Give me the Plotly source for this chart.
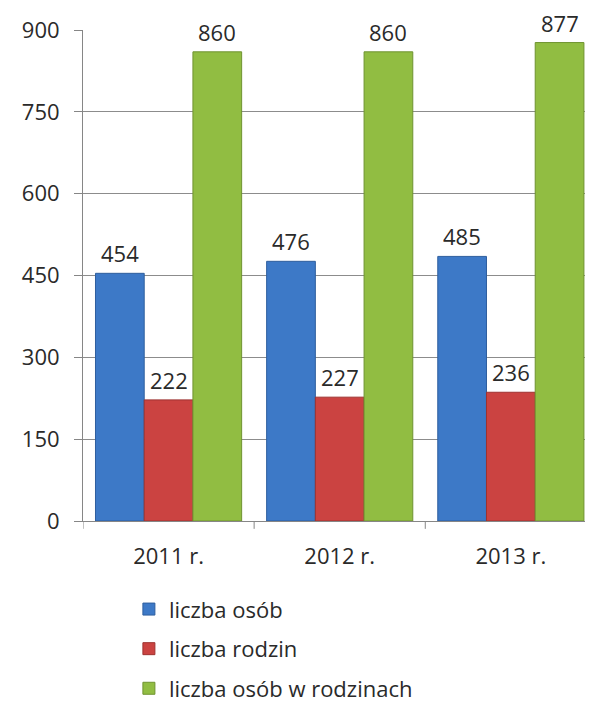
import plotly.graph_objects as go

categories = ["2011 r.", "2012 r.", "2013 r."]
series_names = ["liczba osób", "liczba rodzin", "liczba osób w rodzinach"]
liczba_osob = [454, 476, 485]
liczba_rodzin = [222, 227, 236]
liczba_osob_w_rodzinach = [860, 860, 877]
y_ticks = [0, 150, 300, 450, 600, 750, 900]

series_values = [liczba_osob, liczba_rodzin, liczba_osob_w_rodzinach]
colors = ["#3d79c7", "#cb4341", "#91bd42"]
edges = ["#2f5f9e", "#9e3230", "#6f9330"]

FONT = "'Open Sans', sans-serif"
TXT = "#2a2a2a"
FS = 22

fig = go.Figure()
for name, vals, c, e in zip(series_names, series_values, colors, edges):
    fig.add_trace(go.Bar(
        x=list(range(len(categories))), y=vals, name=name,
        marker=dict(color=c, line=dict(color=e, width=1)),
        legendgroup=name,
    ))

bargap = 0.146
n = len(series_values)
bw = (1 - bargap) / n
annotations = []
for si, vals in enumerate(series_values):
    off = (si - (n - 1) / 2) * bw
    for ci, v in enumerate(vals):
        annotations.append(dict(
            x=ci + off, y=v, xref="x", yref="y", text=str(v),
            showarrow=False, yanchor="bottom", yshift=7,
            height=24, valign="middle",
            bgcolor="white", borderpad=0,
            font=dict(family=FONT, size=FS, color=TXT),
        ))

# page body has an 8px margin, so the figure is offset by 8px
fig.update_layout(
    width=585, height=705,
    margin=dict(l=75, r=0, t=22, b=192),
    paper_bgcolor="white", plot_bgcolor="white",
    barmode="group", bargap=bargap, bargroupgap=0,
    font=dict(family=FONT, size=FS, color=TXT),
    annotations=annotations,
    showlegend=True,
    legend=dict(
        orientation="v", x=0.09, xanchor="left", y=-0.137, yanchor="top",
        font=dict(family=FONT, size=FS, color=TXT),
        tracegroupgap=8, itemwidth=30,
        bgcolor="rgba(0,0,0,0)",
    ),
    xaxis=dict(
        tickmode="array", tickvals=list(range(len(categories))), ticktext=categories,
        range=[-0.5, 2.48], showgrid=False, zeroline=False,
        showline=True, linecolor="#868686", linewidth=1,
        ticks="", tickfont=dict(family=FONT, size=FS, color=TXT),
        ticklabelstandoff=16,
    ),
    yaxis=dict(
        range=[0, 900], tickvals=y_ticks, showgrid=True, gridcolor="#8c8c8c", gridwidth=1,
        zeroline=False, showline=True, linecolor="#868686", linewidth=1,
        ticks="outside", ticklen=8, tickcolor="#868686",
        tickfont=dict(family=FONT, size=FS, color=TXT),
        ticklabelstandoff=10,
    ),
)

for b in [-0.5, 0.5, 1.5]:
    fig.add_shape(type="line", xref="x", yref="paper", x0=b, x1=b, y0=0, y1=-0.016,
                  line=dict(color="#868686", width=1))

fig.write_html("out.html")
